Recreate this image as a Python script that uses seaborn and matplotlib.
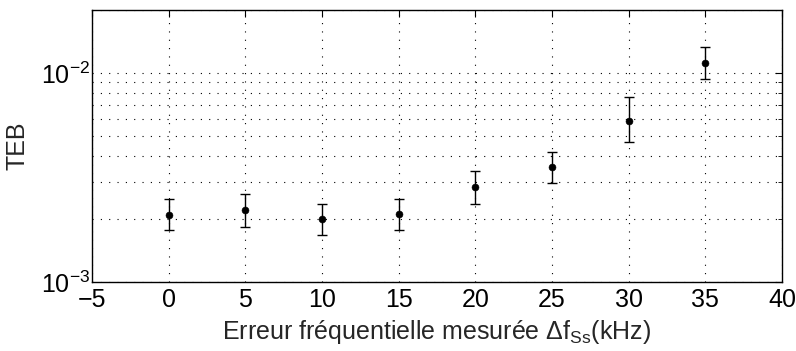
import matplotlib
matplotlib.use("Agg")
import matplotlib.pyplot as plt
import matplotlib.ticker as mticker
import seaborn as sns
import numpy as np
import pandas as pd

# =========================
# DATA
# =========================
freq_error = [0, 5, 10, 15, 20, 25, 30, 35]
teb = [2.08e-3, 2.2e-3, 2.01e-3, 2.12e-3, 2.84e-3, 3.54e-3, 5.9e-3, 1.11e-2]
teb_low = [1.77e-3, 1.83e-3, 1.67e-3, 1.77e-3, 2.37e-3, 2.96e-3, 4.68e-3, 9.4e-3]
teb_high = [2.5e-3, 2.64e-3, 2.37e-3, 2.5e-3, 3.41e-3, 4.18e-3, 7.69e-3, 1.33e-2]
x_ticks = [-5, 0, 5, 10, 15, 20, 25, 30, 35, 40]

df = pd.DataFrame({"df": freq_error, "teb": teb, "low": teb_low, "high": teb_high})

sns.set_style("white")
plt.rcParams["font.family"] = ["Liberation Sans", "DejaVu Sans"]
plt.rcParams["mathtext.default"] = "regular"

fig = plt.figure(figsize=(7.96, 3.51), dpi=100)
ax = fig.add_axes([0.1156, 0.1966, 0.8668, 0.775])

# barres d'erreur
yerr = np.array([df["teb"] - df["low"], df["high"] - df["teb"]])
ax.errorbar(df["df"], df["teb"], yerr=yerr, fmt="none", ecolor="black",
            elinewidth=1.0, capsize=3.6, capthick=1.0, zorder=3)
# points
sns.scatterplot(data=df, x="df", y="teb", ax=ax, color="black", s=25,
                edgecolor="black", zorder=4)

ax.set_yscale("log")
ax.set_xlim(-5, 40)
ax.set_ylim(1e-3, 2e-2)
ax.set_xticks(x_ticks)
ax.yaxis.set_major_locator(mticker.LogLocator(base=10, numticks=5))
ax.yaxis.set_minor_locator(mticker.LogLocator(base=10, subs=np.arange(2, 10), numticks=10))
ax.yaxis.set_minor_formatter(mticker.NullFormatter())

# grille pointillée façon MATLAB
dots = (0, (1, 6.5))
ax.grid(True, which="major", axis="x", linestyle=dots, color="black", linewidth=0.8)
ax.grid(True, which="both", axis="y", linestyle=dots, color="black", linewidth=0.8)

ax.tick_params(which="both", direction="in", top=True, right=True, labelsize=18,
               colors="black")
ax.tick_params(which="major", length=5)
ax.tick_params(which="minor", length=3)
ax.tick_params(axis="x", which="major", pad=4.5)
ax.tick_params(axis="y", which="major", pad=1.5)
for s in ax.spines.values():
    s.set_color("black")
    s.set_linewidth(1.0)

ax.set_xlabel("Erreur fréquentielle mesurée Δf$_{Ss}$(kHz)", fontsize=18, labelpad=4)
ax.set_ylabel("TEB", fontsize=18, labelpad=8)

fig.savefig("out.png", dpi=100)
